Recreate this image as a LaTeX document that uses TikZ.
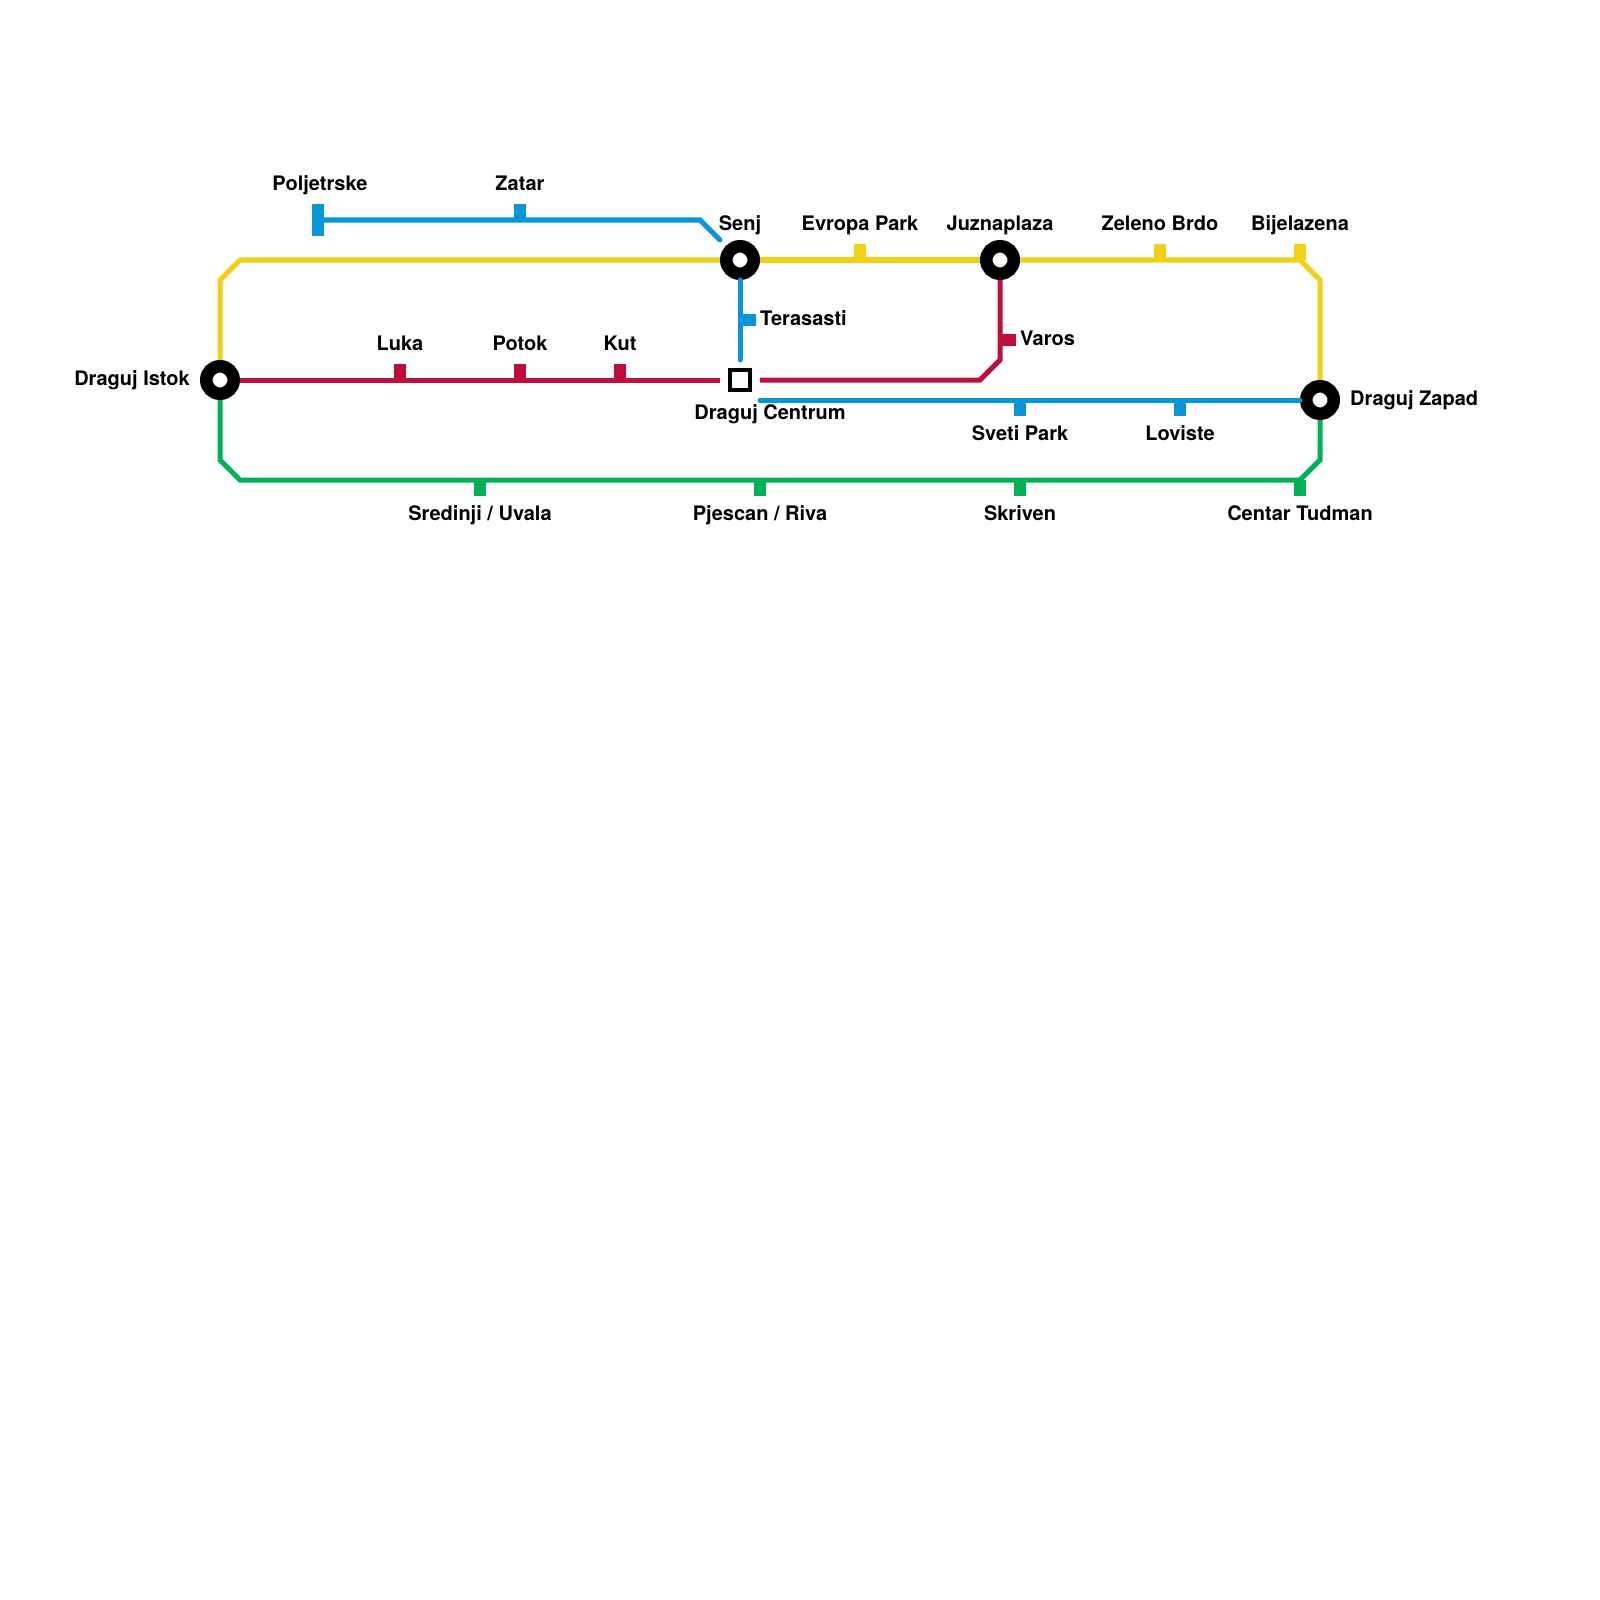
\documentclass[tikz,border=0pt]{standalone}
\usepackage{fontspec}
\setmainfont{TeX Gyre Heros}
\definecolor{lineyellow}{RGB}{241, 208, 22}
\definecolor{linered}{RGB}{190, 15, 60}
\definecolor{lineblue}{RGB}{9, 150, 217}
\definecolor{linegreen}{RGB}{0, 178, 85}
\usetikzlibrary{positioning, calc}

\begin{document}
\begin{tikzpicture}[
  x=0.01cm, y=-0.01cm,
  hub/.style={circle, draw=black, fill=white, line width=0.125cm, minimum size=0.275cm, inner sep=0pt},
  depot/.style={rectangle, draw=black, fill=white, line width=0.04cm, minimum size=0.2cm, inner sep=0pt, outer sep=0.1cm},
  route/.style={line width=0.05cm},
  tickup/.style={rectangle, minimum width=0.12cm, minimum height=0.16cm, inner sep=0pt, outer sep=0pt, anchor=south},
  tickdown/.style={rectangle, minimum width=0.12cm, minimum height=0.16cm, inner sep=0pt, outer sep=0pt, anchor=north},
  tickside/.style={rectangle, minimum width=0.16cm, minimum height=0.12cm, inner sep=0pt, outer sep=0pt, anchor=west},
  stop/.style={inner sep=0pt, anchor=base, font=\fontsize{5.69}{7}\selectfont\bfseries}
]
  \useasboundingbox (0,0) rectangle (1600,1600);

  \coordinate (ynwa) at (220,280);
  \coordinate (ynwb) at (240,260);
  \coordinate (ynea) at (1300,260);
  \coordinate (yneb) at (1320,280);
  \coordinate (gswa) at (220,460);
  \coordinate (gswb) at (240,480);
  \coordinate (gsea) at (1300,480);
  \coordinate (gseb) at (1320,460);
  \coordinate (rbenda) at (980,380);
  \coordinate (rbendb) at (1000,360);
  \coordinate (bstart) at (324,220);
  \coordinate (bbenda) at (700,220);
  \coordinate (bbendb) at (720,240);
  \coordinate (bsouth) at (760,400);

  \node[hub] (istok) at (220,380) {};
  \node[hub] (senj) at (740,260) {};
  \node[hub] (juzna) at (1000,260) {};
  \node[hub] (zapad) at (1320,400) {};
  \node[depot] (centrum) at (740,380) {};

  \draw[route, lineyellow] (istok) -- (ynwa) -- (ynwb) -- (senj);
  \draw[route, lineyellow] (senj) -- (juzna);
  \draw[route, lineyellow] (juzna) -- (ynea) -- (yneb) -- (zapad);
  \draw[route, linered] (istok) -- (centrum);
  \draw[route, linered] (centrum) -- (rbenda) -- (rbendb) -- (juzna);
  \draw[route, linegreen] (istok) -- (gswa) -- (gswb) -- (gsea) -- (gseb) -- (zapad);
  \draw[route, lineblue, line cap=round] (bstart) -- (bbenda) -- (bbendb);
  \draw[route, lineblue, line cap=round] (senj) -- (centrum);
  \draw[route, lineblue, line cap=round] (bsouth) -- (zapad);

  \node[rectangle, fill=lineblue, minimum width=0.12cm, minimum height=0.32cm, inner sep=0pt] (polj) at (317.5,220) {};
  \node[tickup, fill=lineblue] (zatar) at (520,220) {};
  \node[tickside, fill=lineblue] (teras) at (740,320) {};
  \node[tickdown, fill=lineblue] (sveti) at (1020,400) {};
  \node[tickdown, fill=lineblue] (lovis) at (1180,400) {};
  \node[tickup, fill=lineyellow] (evropa) at (860,260) {};
  \node[tickup, fill=lineyellow] (zeleno) at (1160,260) {};
  \node[tickup, fill=lineyellow] (bijela) at (1300,260) {};
  \node[tickup, fill=linered] (luka) at (400,380) {};
  \node[tickup, fill=linered] (potok) at (520,380) {};
  \node[tickup, fill=linered] (kut) at (620,380) {};
  \node[tickside, fill=linered] (varos) at (1000,340) {};
  \node[tickdown, fill=linegreen] (sredinji) at (480,480) {};
  \node[tickdown, fill=linegreen] (pjescan) at (760,480) {};
  \node[tickdown, fill=linegreen] (skriven) at (1020,480) {};
  \node[tickdown, fill=linegreen] (centar) at (1300,480) {};

  \node[stop] (tpolj) at (320,190) {Poljetrske};
  \node[stop] (tzatar) at (520,190) {Zatar};
  \node[stop] (tsenj) at (740,230) {Senj};
  \node[stop] (tevropa) at (860,230) {Evropa Park};
  \node[stop] (tjuzna) at (1000,230) {Juznaplaza};
  \node[stop] (tzeleno) at (1160,230) {Zeleno Brdo};
  \node[stop] (tbijela) at (1300,230) {Bijelazena};
  \node[stop, anchor=base west] (tteras) at (759.5,325) {Terasasti};
  \node[stop, anchor=base west] (tvaros) at (1019.5,345) {Varos};
  \node[stop] (tluka) at (400,350) {Luka};
  \node[stop] (tpotok) at (520,350) {Potok};
  \node[stop] (tkut) at (620,350) {Kut};
  \node[stop, anchor=base east] (tistok) at (190.5,385) {Draguj Istok};
  \node[stop] (tcentrum) at (770,419) {Draguj Centrum};
  \node[stop, anchor=base west] (tzapad) at (1349.5,405) {Draguj Zapad};
  \node[stop] (tsveti) at (1020,440) {Sveti Park};
  \node[stop] (tlovis) at (1180,440) {Loviste};
  \node[stop] (tsredinji) at (480,520) {Sredinji / Uvala};
  \node[stop] (tpjescan) at (760,520) {Pjescan / Riva};
  \node[stop] (tskriven) at (1020,520) {Skriven};
  \node[stop] (tcentar) at (1300,520) {Centar Tudman};
\end{tikzpicture}
\end{document}
